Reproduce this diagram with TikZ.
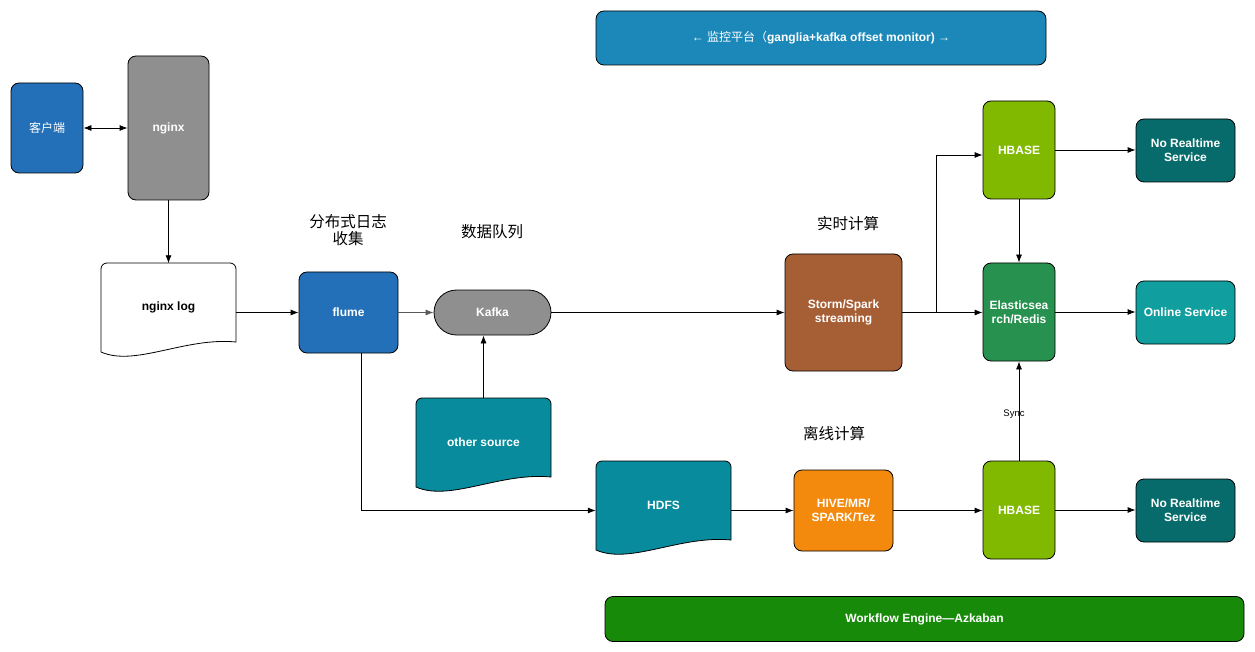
\documentclass[tikz,border=0pt]{standalone}
\usepackage{fontspec}
\setmainfont{Liberation Sans}
\newfontfamily\cjk{Noto Sans CJK SC}
\usetikzlibrary{arrows.meta,calc}
\definecolor{cblue}{RGB}{35,112,185}
\definecolor{cgray}{RGB}{143,143,143}
\definecolor{cteal}{RGB}{7,139,157}
\definecolor{cbrown}{RGB}{166,94,53}
\definecolor{cgreen}{RGB}{128,185,0}
\definecolor{ces}{RGB}{39,145,79}
\definecolor{cnrt}{RGB}{8,107,107}
\definecolor{conl}{RGB}{16,158,158}
\definecolor{corange}{RGB}{243,138,13}
\definecolor{cmon}{RGB}{28,136,185}
\definecolor{cwf}{RGB}{24,138,9}
\newcommand\DocShape[3]{%
  \begin{scope}[shift={(#1,#2)}]
    \draw[fill=#3, line width=0.8pt] (0,89) [rounded corners=6pt] -- (0,0) -- (135,0) [sharp corners] -- (135,79)
      .. controls (84,74) and (34,104) .. (0,89) -- cycle;
  \end{scope}}
\begin{document}
\begin{tikzpicture}[x=1pt,y=-1pt,
  box/.style={draw=black, line width=0.8pt, rounded corners=8pt, text=white,
    font=\bfseries\fontsize{12}{14}\selectfont, align=center, inner sep=0pt},
  doclbl/.style={font=\bfseries\fontsize{12}{14}\selectfont, align=center, inner sep=0pt,
    minimum width=135pt, minimum height=88pt},
  title/.style={font=\cjk\fontsize{15.5}{17}\selectfont, align=center, inner sep=0pt},
  arr/.style={-{Latex[length=8pt,width=6pt]}, line width=0.8pt},
  darr/.style={{Latex[length=8pt,width=6pt]}-{Latex[length=8pt,width=6pt]}, line width=0.8pt}]
\useasboundingbox (0,0) rectangle (1255,652);
\fill[white] (0,0) rectangle (1255,652);

% bars
\node[box, fill=cmon, minimum width=450pt, minimum height=54pt, font=\fontsize{12}{14}\selectfont] (monitor) at (821,38)
  {\textbf{←} {\cjk 监控平台（}\textbf{ganglia+kafka offset monitor)} \textbf{→}};
\node[box, fill=cwf, minimum width=639pt, minimum height=45pt] (workflow) at (924.5,619) {Workflow Engine—Azkaban};

% left part
\node[box, fill=cblue, minimum width=72pt, minimum height=90pt, font=\cjk\mdseries\fontsize{12}{14}\selectfont] (client) at (47,128) {客户端};
\node[box, fill=cgray, minimum width=81pt, minimum height=144pt] (nginx) at (168.5,128) {nginx};
\DocShape{101}{263}{white}
\node[doclbl] (nlog) at (168.5,307.5) {nginx log};
\node[box, fill=cblue, minimum width=99pt, minimum height=81pt] (flume) at (348.5,312.5) {flume};
\node[box, fill=cgray, minimum width=117pt, minimum height=45pt, rounded corners=22.5pt] (kafka) at (492.5,312.5) {Kafka};
\DocShape{416}{398}{cteal}
\node[doclbl, text=white] (other) at (483.5,442.5) {other source};
\DocShape{596}{461}{cteal}
\node[doclbl, text=white] (hdfs) at (663.5,505.5) {HDFS};

% compute
\node[box, fill=cbrown, minimum width=117pt, minimum height=117pt] (storm) at (843.5,312.5) {Storm/Spark\\streaming};
\node[box, fill=corange, minimum width=99pt, minimum height=81pt] (hive) at (843.5,510.5) {HIVE/MR/\\SPARK/Tez};

% storage
\node[box, fill=cgreen, minimum width=72pt, minimum height=98pt] (hbase1) at (1019,150) {HBASE};
\node[box, fill=ces, minimum width=72pt, minimum height=98pt] (es) at (1019,312) {Elasticsea\\rch/Redis};
\node[box, fill=cgreen, minimum width=72pt, minimum height=98pt] (hbase2) at (1019,510) {HBASE};

% services
\node[box, fill=cnrt, minimum width=99pt, minimum height=63pt] (nrt1) at (1185.5,150.5) {No Realtime\\Service};
\node[box, fill=conl, minimum width=99pt, minimum height=63pt] (online) at (1185.5,312.5) {Online Service};
\node[box, fill=cnrt, minimum width=99pt, minimum height=63pt] (nrt2) at (1185.5,510.5) {No Realtime\\Service};

% titles
\node[title] (t1) at (348,230) {分布式日志\\收集};
\node[title] (t2) at (492,232) {数据队列};
\node[title] (t3) at (848,224) {实时计算};
\node[title] (t4) at (834,434) {离线计算};

% connectors
\draw[darr] (client.east) -- (nginx.west);
\draw[arr] (nginx.south) -- (nlog.north);
\draw[arr] (nlog.east |- flume.west) -- (flume.west);
\draw[arr, draw=black!65] (flume.east) -- (kafka.west);
\draw[arr] (kafka.east) -- (storm.west);
\draw[arr] (other.north) -- (other.north |- kafka.south);
\draw[arr] ([xshift=12.5pt]flume.south) |- (hdfs.west |- hive.west);
\draw[arr] (hdfs.east |- hive.west) -- (hive.west);
\draw[arr] (hive.east) -- (hbase2.west |- hive.east);
\draw[arr] (storm.east) -- (es.west |- storm.east);
\coordinate (br) at (936,312.5);
\draw[arr] (br) |- ([yshift=-5pt]hbase1.west);
\draw[arr] (hbase1.south) -- (es.north);
\draw[arr] (hbase1.east) -- (nrt1.west |- hbase1.east);
\draw[arr] (es.east) -- (online.west |- es.east);
\draw[arr] (hbase2.east) -- (nrt2.west |- hbase2.east);
\draw[arr] (hbase2.north) -- node[font=\fontsize{9.5}{11}\selectfont, inner sep=0pt, xshift=-5pt, yshift=-3pt] (sync) {Sync} (es.south);
\end{tikzpicture}
\end{document}
